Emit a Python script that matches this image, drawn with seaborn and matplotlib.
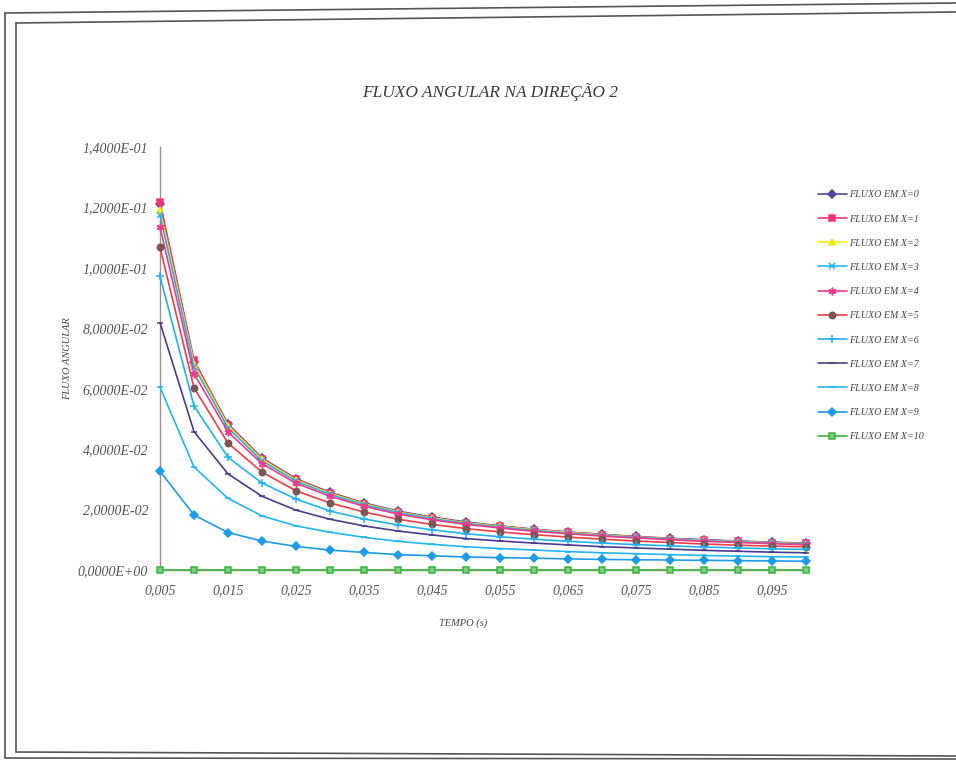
import numpy as np
import pandas as pd
import matplotlib
matplotlib.use("Agg")
import matplotlib.pyplot as plt
from matplotlib.lines import Line2D
import seaborn as sns

# ---------------- data ----------------
tempo = [0.005, 0.010, 0.015, 0.020, 0.025, 0.030, 0.035, 0.040, 0.045, 0.050,
         0.055, 0.060, 0.065, 0.070, 0.075, 0.080, 0.085, 0.090, 0.095, 0.100]

fluxo_x0 = [.1212, .0690, .0483, .0371, .0302, .0257, .0222, .0195, .0175, .0159,
            .0146, .0135, .0126, .0118, .0111, .0105, .0100, .0096, .0092, .0089]
fluxo_x1 = [.1218, .0694, .0481, .0368, .0300, .0255, .0220, .0193, .0173, .0157,
            .0145, .0134, .0125, .0117, .0110, .0104, .0099, .0095, .0091, .0088]
fluxo_x2 = [.1193, .0683, .0477, .0366, .0298, .0253, .0219, .0192, .0172, .0156,
            .0144, .0133, .0124, .0116, .0109, .0103, .0098, .0094, .0090, .0087]
fluxo_x3 = [.1175, .0672, .0470, .0361, .0294, .0250, .0216, .0190, .0170, .0154,
            .0142, .0131, .0122, .0114, .0108, .0102, .0097, .0093, .0089, .0086]
fluxo_x4 = [.1136, .0650, .0457, .0352, .0287, .0244, .0211, .0185, .0166, .0151,
            .0139, .0128, .0120, .0112, .0106, .0100, .0095, .0091, .0087, .0084]
fluxo_x5 = [.1068, .0603, .0420, .0324, .0262, .0222, .0192, .0168, .0151, .0137,
            .0126, .0117, .0109, .0102, .0096, .0091, .0086, .0082, .0079, .0077]
fluxo_x6 = [.0972, .0543, .0373, .0288, .0235, .0195, .0169, .0149, .0133, .0120,
            .0110, .0102, .0095, .0089, .0084, .0080, .0076, .0073, .0070, .0068]
fluxo_x7 = [.0819, .0458, .0318, .0244, .0198, .0168, .0146, .0129, .0116, .0104,
            .0096, .0089, .0083, .0077, .0073, .0069, .0065, .0062, .0059, .0057]
fluxo_x8 = [.0605, .0341, .0237, .0179, .0146, .0125, .0108, .0095, .0085, .0077,
            .0071, .0066, .0061, .0057, .0054, .0051, .0048, .0046, .0044, .0043]
fluxo_x9 = [.0327, .0182, .0124, .0096, .0078, .0066, .0058, .0051, .0047, .0043,
            .0041, .0039, .0037, .0035, .0034, .0033, .0032, .0031, .0030, .0029]
fluxo_x10 = [0.0, 0.0, 0.0, 0.0, 0.0, 0.0, 0.0, 0.0, 0.0, 0.0,
             0.0, 0.0, 0.0, 0.0, 0.0, 0.0, 0.0, 0.0, 0.0, 0.0]

series_names = ["FLUXO EM X=0", "FLUXO EM X=1", "FLUXO EM X=2", "FLUXO EM X=3",
                "FLUXO EM X=4", "FLUXO EM X=5", "FLUXO EM X=6", "FLUXO EM X=7",
                "FLUXO EM X=8", "FLUXO EM X=9", "FLUXO EM X=10"]
series_values = [fluxo_x0, fluxo_x1, fluxo_x2, fluxo_x3, fluxo_x4, fluxo_x5,
                 fluxo_x6, fluxo_x7, fluxo_x8, fluxo_x9, fluxo_x10]

y_ticks = [0.0, 0.02, 0.04, 0.06, 0.08, 0.10, 0.12, 0.14]
x_ticks_labeled = [0.005, 0.015, 0.025, 0.035, 0.045, 0.055, 0.065, 0.075, 0.085, 0.095]

title = "FLUXO ANGULAR NA DIREÇÃO 2"
x_label = "TEMPO (s)"
y_label = "FLUXO ANGULAR"

# ---------------- styles ----------------
styles = [
    dict(color="#4a4a96", marker="D", ms=4.0, mfc="#4a4a96", mec="#4a4a96"),
    dict(color="#f0347e", marker="s", ms=4.3, mfc="#f0347e", mec="#f0347e"),
    dict(color="#f2ec10", marker="^", ms=4.6, mfc="#f2ec10", mec="#f2ec10"),
    dict(color="#25b3ee", marker="x", ms=4.6, mfc="#25b3ee", mec="#25b3ee"),
    dict(color="#f0388a", marker=(6, 2, 0), ms=5.5, mfc="#f0388a", mec="#f0388a"),
    dict(color="#f03c46", marker="o", ms=4.6, mfc="#7d5454", mec="#7d5454"),
    dict(color="#22b2ee", marker="+", ms=6.0, mfc="#22b2ee", mec="#22b2ee"),
    dict(color="#4a3c8c", marker="_", ms=5.0, mfc="#4a3c8c", mec="#4a3c8c"),
    dict(color="#22b6f0", marker="_", ms=5.0, mfc="#22b6f0", mec="#22b6f0"),
    dict(color="#1e9be6", marker="D", ms=4.3, mfc="#1e9be6", mec="#1e9be6"),
    dict(color="#3cb43c", marker="s", ms=4.5, mfc="#7ccf7c", mec="#3cb43c"),
]

rows = []
for name, vals in zip(series_names, series_values):
    for t, v in zip(tempo, vals):
        rows.append({"tempo": t, "fluxo": v, "serie": name})
df = pd.DataFrame(rows)

sns.set_style("white")
plt.rcParams["font.family"] = ["Liberation Serif", "DejaVu Serif"]

fig = plt.figure(figsize=(9.56, 7.6), dpi=100)
fig.patch.set_facecolor("white")
ax = fig.add_axes([160 / 956, 190 / 760, 646 / 956, 423 / 760])

for name, st in zip(series_names, styles):
    sub = df[df["serie"] == name]
    sns.lineplot(data=sub, x="tempo", y="fluxo", ax=ax, color=st["color"],
                 marker=st["marker"], markersize=st["ms"],
                 markerfacecolor=st["mfc"], markeredgecolor=st["mec"],
                 markeredgewidth=1.1, linewidth=1.2, label=name,
                 estimator=None, errorbar=None, sort=False, clip_on=False,
                 zorder=3)

ax.set_xlim(0.005, 0.100)
ax.set_ylim(0, 0.14)
ax.set_yticks(y_ticks)
ax.set_yticklabels([("%.4E" % v).replace(".", ",") for v in y_ticks])
ax.set_xticks(tempo, minor=True)
ax.set_xticks(x_ticks_labeled)
ax.set_xticklabels([("%.3f" % v).replace(".", ",") for v in x_ticks_labeled])

for s in ["top", "right"]:
    ax.spines[s].set_visible(False)
ax.spines["left"].set_color("#a08f8a")
ax.spines["bottom"].set_color("#a08f8a")
ax.spines["left"].set_linewidth(1.0)
ax.spines["bottom"].set_linewidth(1.0)
ax.tick_params(axis="y", direction="inout", length=7, width=1, color="#a08f8a",
               labelsize=10, labelcolor="#555555", pad=5)
ax.tick_params(axis="x", direction="inout", length=5, width=1, color="#a08f8a",
               labelsize=10, labelcolor="#555555", pad=8)
ax.tick_params(axis="x", which="minor", direction="inout", length=5, width=1,
               color="#a08f8a")
for lab in ax.get_xticklabels() + ax.get_yticklabels():
    lab.set_fontstyle("italic")

ax.set_xlabel(x_label, fontsize=7.5, fontstyle="italic", color="#444444")
ax.set_ylabel(y_label, fontsize=7.5, fontstyle="italic", color="#444444")
ax.yaxis.set_label_coords(-0.136, 0.5)
ax.xaxis.set_label_coords(0.47, -0.115)

fig.text(490 / 956, 1 - 92 / 760, title, ha="center", va="center", fontsize=12.5,
         fontstyle="italic", color="#3a3a3a")

leg = ax.legend(loc="upper left", bbox_to_anchor=(1.012, 0.907), frameon=False,
                fontsize=7.2, handlelength=2.9, handletextpad=0.25,
                labelspacing=1.52, borderaxespad=0)
for txt in leg.get_texts():
    txt.set_fontstyle("italic")
    txt.set_color("#444444")

# page frame (scanned document border)
W, H = 956.0, 760.0
def fline(x0, y0, x1, y1, lw=1.2, c="#555555"):
    fig.add_artist(Line2D([x0 / W, x1 / W], [1 - y0 / H, 1 - y1 / H],
                          transform=fig.transFigure, color=c, linewidth=lw))
fline(5, 13, 956, 3)
fline(5, 13, 5, 758)
fline(16, 23, 956, 12)
fline(16, 23, 16, 752)
fline(16, 752, 956, 756)
fline(5, 758, 956, 759)

fig.savefig("out.png", dpi=100, facecolor="white")
